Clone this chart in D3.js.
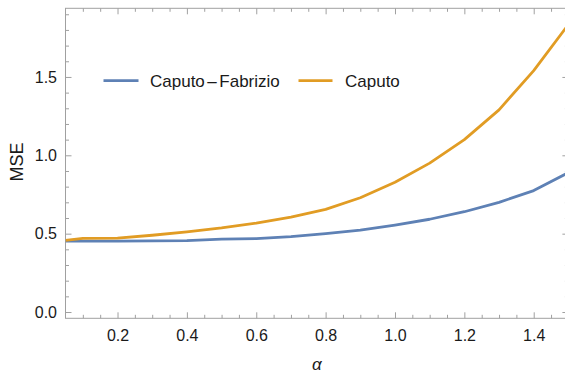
<!DOCTYPE html>
<html>
<head>
<meta charset="utf-8">
<script src="https://cdn.jsdelivr.net/npm/d3@7"></script>
<style>
  html, body { margin: 0; padding: 0; background: #fff; }
  svg { display: block; font-family: "Liberation Sans", Arial, sans-serif; }
</style>
</head>
<body>
<svg id="chart" width="565" height="374"></svg>
<script>
// Fractional order alpha and mean squared error of the two derivative models
const alpha = [0.05, 0.1, 0.2, 0.3, 0.4, 0.5, 0.6, 0.7, 0.8, 0.9, 1.0, 1.1, 1.2, 1.3, 1.4, 1.5];
const mseCaputoFabrizio = [0.452, 0.453, 0.453, 0.454, 0.456, 0.465, 0.469, 0.481, 0.500, 0.523, 0.555, 0.592, 0.640, 0.700, 0.775, 0.89];
const mseCaputo = [0.457, 0.470, 0.472, 0.490, 0.512, 0.537, 0.568, 0.606, 0.655, 0.729, 0.828, 0.950, 1.100, 1.290, 1.540, 1.835];
const seriesNames = [["Caputo", "\u2013", "Fabrizio"], ["Caputo"]];
const seriesColors = ["#5E81B5", "#E19C24"];
const xTicks = [0.2, 0.4, 0.6, 0.8, 1.0, 1.2, 1.4];
const yTicks = [0.0, 0.5, 1.0, 1.5];

const svg = d3.select("#chart");
const plotLeft = 65.5, plotRight = 568.4, plotTop = 8.3, plotBottom = 318.3;

const x = d3.scaleLinear().domain([0.05, 1.5]).range([plotLeft, plotRight]);
const y = d3.scaleLinear().domain([-0.04, 1.938]).range([plotBottom, plotTop]);

const frameColor = "#a0a0a0";
const textColor = "#1a1a1a";

// minor tick positions
const xMinor = d3.range(0.1, 1.5001, 0.05).map(v => +v.toFixed(2)).filter(v => !xTicks.some(t => Math.abs(t - v) < 1e-6));
const yMinor = d3.range(0.0, 1.9001, 0.1).map(v => +v.toFixed(2)).filter(v => !yTicks.some(t => Math.abs(t - v) < 1e-6));

function styleAxis(g) {
  g.select(".domain").remove();
  g.selectAll("line").attr("stroke", frameColor).attr("stroke-width", 1);
  g.selectAll("text").attr("fill", textColor).style("font-size", "16px")
    .style("font-family", "'Liberation Sans', Arial, sans-serif");
}

// bottom axis: major with labels, minor without
svg.append("g").attr("transform", `translate(0,${plotBottom})`)
  .call(d3.axisBottom(x).tickValues(xTicks).tickSize(-6).tickPadding(11).tickFormat(d3.format(".1f")))
  .call(styleAxis);
svg.append("g").attr("transform", `translate(0,${plotBottom})`)
  .call(d3.axisBottom(x).tickValues(xMinor).tickSize(-3.5).tickFormat(""))
  .call(styleAxis);
// top frame ticks
svg.append("g").attr("transform", `translate(0,${plotTop})`)
  .call(d3.axisTop(x).tickValues(xTicks).tickSize(-6).tickFormat(""))
  .call(styleAxis);
svg.append("g").attr("transform", `translate(0,${plotTop})`)
  .call(d3.axisTop(x).tickValues(xMinor).tickSize(-3.5).tickFormat(""))
  .call(styleAxis);

// left axis
svg.append("g").attr("transform", `translate(${plotLeft},0)`)
  .call(d3.axisLeft(y).tickValues(yTicks).tickSize(-6).tickPadding(8.5).tickFormat(d3.format(".1f")))
  .call(styleAxis);
svg.append("g").attr("transform", `translate(${plotLeft},0)`)
  .call(d3.axisLeft(y).tickValues(yMinor).tickSize(-3.5).tickFormat(""))
  .call(styleAxis);
// right frame ticks
svg.append("g").attr("transform", `translate(${plotRight},0)`)
  .call(d3.axisRight(y).tickValues(yTicks).tickSize(-6).tickFormat(""))
  .call(styleAxis);
svg.append("g").attr("transform", `translate(${plotRight},0)`)
  .call(d3.axisRight(y).tickValues(yMinor).tickSize(-3.5).tickFormat(""))
  .call(styleAxis);

// frame
svg.append("rect")
  .attr("x", plotLeft).attr("y", plotTop)
  .attr("width", plotRight - plotLeft).attr("height", plotBottom - plotTop)
  .attr("fill", "none").attr("stroke", frameColor).attr("stroke-width", 1);

// curves
svg.append("clipPath").attr("id", "plotClip")
  .append("rect").attr("x", plotLeft).attr("y", plotTop).attr("width", plotRight - plotLeft).attr("height", plotBottom - plotTop);

const line = d3.line().x((d, i) => x(alpha[i])).y(d => y(d));
const plot = svg.append("g").attr("clip-path", "url(#plotClip)");
[mseCaputoFabrizio, mseCaputo].forEach((vals, k) => {
  plot.append("path").datum(vals)
    .attr("d", line)
    .attr("fill", "none")
    .attr("stroke", seriesColors[k])
    .attr("stroke-width", 2.8)
    .attr("stroke-linejoin", "round");
});

// legend
const legendItems = [
  { x1: 103.5, x2: 138.5, tx: 150 },
  { x1: 298.5, x2: 332.5, tx: 345 }
];
const legendY = 80.7;
legendItems.forEach((it, k) => {
  svg.append("line")
    .attr("x1", it.x1).attr("x2", it.x2).attr("y1", legendY).attr("y2", legendY)
    .attr("stroke", seriesColors[k]).attr("stroke-width", 2.8);
  const t = svg.append("text")
    .attr("x", it.tx).attr("y", legendY).attr("dy", "0.36em")
    .attr("fill", textColor).style("font-size", "17px");
  seriesNames[k].forEach((part, j) => {
    t.append("tspan").attr("dx", j > 0 ? 2.5 : 0).text(part);
  });
});

// axis titles
svg.append("text")
  .attr("x", (plotLeft + plotRight) / 2).attr("y", 365).attr("dy", "0.3em")
  .attr("text-anchor", "middle").attr("fill", textColor)
  .style("font-size", "17px").style("font-style", "italic")
  .text("\u03b1");
svg.append("text")
  .attr("transform", `translate(17,162) rotate(-90)`)
  .attr("text-anchor", "middle").attr("dy", "0.36em").attr("fill", textColor)
  .style("font-size", "18px")
  .text("MSE");
</script>
</body>
</html>
